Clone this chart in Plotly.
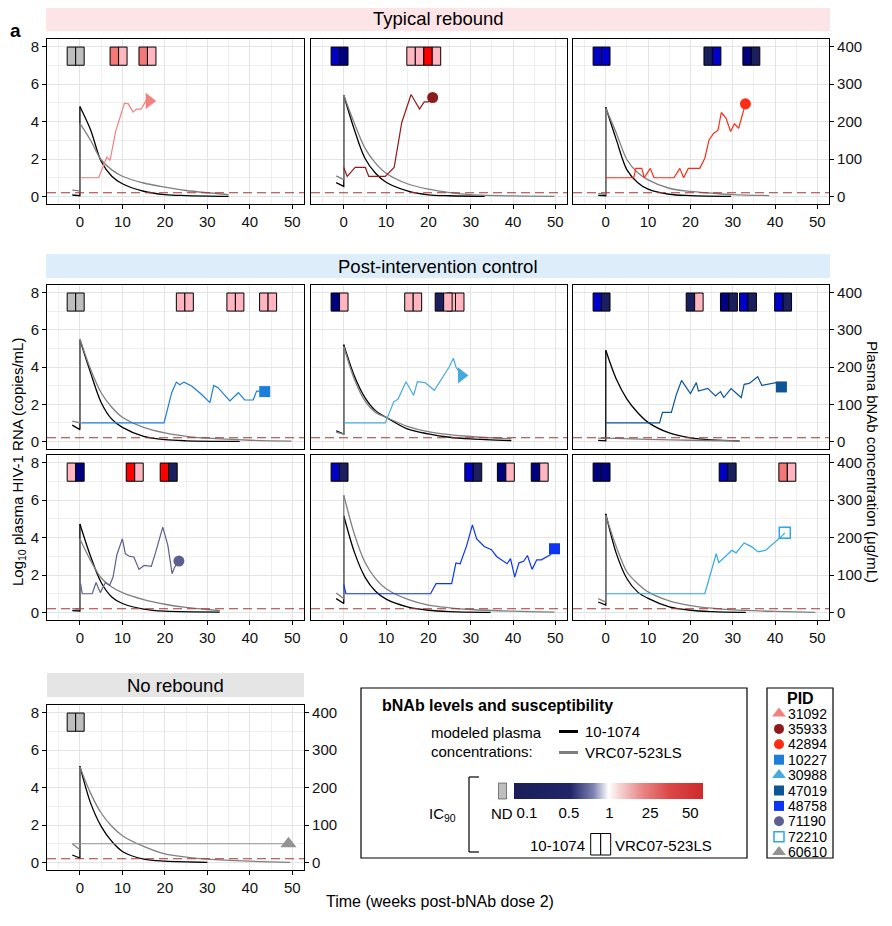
import plotly.graph_objects as go

PAGE_W, PAGE_H = 892, 926
OFF = 8                      # browser default body margin
W, H = PAGE_W - OFF, PAGE_H - OFF
FONT = "Arial, Liberation Sans, sans-serif"

# ---------------- data ----------------
PANELS = ["31092", "35933", "42894", "10227", "30988", "47019", "71190", "48758", "72210", "60610"]
PANEL_ROW = [0, 0, 0, 1, 1, 1, 2, 2, 2, 3]
PANEL_COL = [0, 1, 2, 0, 1, 2, 0, 1, 2, 0]
GROUP_TITLES = ["Typical rebound", "Post-intervention control", "No rebound"]

WEEK_TICKS = [0, 10, 20, 30, 40, 50]
LOG_TICKS = [0, 2, 4, 6, 8]
CONC_TICKS = [0, 100, 200, 300, 400]
LOD_CONC = 10  # dashed reference level (ug/mL)

# plasma HIV-1 RNA (log10 copies/mL)
VIRUS_WEEKS = {
    "31092": [0.3, 4.4, 6.35, 7.1, 8.4, 10.5, 11.4, 12.5, 13.3, 14.4, 15.6, 16.3],
    "35933": [0, 0.8, 2.7, 5.1, 5.9, 9.8, 11.9, 13.7, 15.9, 17.9, 19.0, 20.0, 21.0],
    "42894": [0, 6.6, 7.1, 8.5, 9.1, 10.5, 11.4, 16.1, 17.5, 18.4, 19.5, 22.2, 23.4, 24.4, 25.5, 26.5,
              27.3, 28.4, 29.5, 30.4, 31.4, 32.7, 33.0],
    "10227": [0.3, 19.8, 21.6, 22.7, 23.5, 24.5, 26.3, 28.6, 30.6, 31.5, 32.5, 33.6, 35.3, 37.3, 38.8,
              40.8, 41.6, 42.7, 43.5],
    "30988": [0, 9.8, 11.8, 12.8, 14.7, 16.5, 17.4, 19.2, 21.4, 23.1, 24.9, 25.9, 26.5, 27.8],
    "47019": [0, 12.7, 13.4, 15.5, 16.7, 17.9, 20.0, 21.4, 21.9, 23.0, 24.1, 25.9, 27.1, 27.9, 29.6,
              32.0, 32.7, 33.9, 35.9, 36.9, 40.2, 41.5],
    "71190": [0.15, 0.55, 2.9, 3.8, 4.8, 6.0, 7.0, 7.8, 8.7, 10.0, 10.7, 11.7, 12.7, 13.9, 15.1, 16.8,
              17.8, 19.5, 20.7, 21.7, 22.3, 23.3],
    "48758": [0, 0.5, 20.5, 21.8, 25.5, 26.5, 27.5, 29.0, 30.4, 31.4, 33.2, 34.9, 36.1, 37.3, 38.6, 39.4,
              40.4, 41.4, 42.5, 43.4, 44.5, 45.6, 46.7, 48.8, 49.8],
    "72210": [0, 23.4, 26.1, 26.7, 29.8, 30.8, 32.7, 34.5, 36.0, 37.8, 41.6, 42.3],
    "60610": [-1.7, 49.1],
}
VIRUS_LOG = {
    "31092": [1.0, 1.0, 2.1, 1.92, 3.47, 4.98, 4.94, 4.5, 4.66, 4.66, 5.12, 5.1],
    "35933": [1.55, 1.07, 1.55, 1.55, 1.07, 1.07, 1.55, 3.95, 5.44, 4.66, 5.05, 5.05, 5.28],
    "42894": [1.0, 1.0, 1.5, 1.5, 1.0, 1.5, 1.0, 1.0, 1.5, 1.0, 1.5, 1.5, 2.04, 3.02, 3.38, 3.52,
              4.48, 4.18, 3.47, 3.88, 3.64, 4.66, 4.94],
    "10227": [1.0, 1.0, 2.62, 3.19, 3.05, 3.19, 2.98, 2.54, 2.09, 3.01, 2.89, 2.59, 2.18, 2.62, 2.23,
              2.23, 2.71, 2.71, 2.68],
    "30988": [1.0, 1.0, 2.13, 2.27, 3.21, 2.48, 3.21, 3.16, 2.75, 3.33, 4.0, 4.47, 4.0, 3.55],
    "47019": [1.0, 1.0, 1.56, 1.56, 2.54, 3.28, 2.57, 3.16, 2.71, 2.8, 2.85, 2.45, 2.68, 2.36, 2.84,
              2.36, 3.07, 3.12, 3.48, 3.01, 3.16, 2.93],
    "71190": [1.54, 1.0, 1.0, 1.6, 1.06, 1.6, 1.45, 1.89, 3.08, 3.93, 3.13, 2.99, 2.96, 2.3, 2.51, 2.46,
              3.19, 4.55, 3.58, 2.07, 2.42, 2.74],
    "48758": [1.49, 1.0, 1.0, 1.54, 1.54, 2.64, 2.6, 3.54, 4.67, 3.93, 3.52, 3.35, 2.99, 2.81, 2.6, 2.87,
              1.89, 2.65, 2.73, 3.04, 2.3, 2.81, 2.81, 3.08, 3.4],
    "72210": [1.0, 1.0, 3.14, 2.66, 3.32, 3.18, 3.71, 3.5, 3.23, 3.32, 4.07, 4.25],
    "60610": [1.0, 1.0],
}

# modeled plasma bNAb concentrations (ug/mL): residual before dose 2
PRE_WEEKS = {p: [-1.8, 0] for p in PANELS}
PRE_1074 = {"31092": [4, 2], "35933": [37, 27], "42894": [3, 2], "10227": [44, 32], "30988": [29, 20],
            "47019": [3, 2], "71190": [5, 4], "48758": [37, 24], "72210": [28, 20], "60610": [20, 12]}
PRE_VRC = {"31092": [17, 15], "35933": [55, 45], "42894": [8, 6], "10227": [55, 50], "30988": [25, 20],
           "47019": [9, 8], "71190": [10, 9], "48758": [52, 37], "72210": [37, 28], "60610": [50, 34]}

C1074_WEEKS = {
    "31092": [0, 2.5, 5, 7.5, 10, 15, 20, 25, 35],
    "35933": [0, 2.5, 5, 7.5, 10, 15, 20, 25, 33.3],
    "42894": [0, 2.5, 5, 7.5, 10, 15, 20, 29.6],
    "10227": [0, 2.5, 5, 7.5, 10, 15, 20, 25, 37.6],
    "30988": [0, 2.5, 5, 7.5, 10, 15, 20, 25, 30, 39.6],
    "47019": [0, 2.5, 5, 7.5, 10, 15, 20, 25, 31.6],
    "71190": [0, 2.5, 5, 7.5, 10, 15, 20, 32.9],
    "48758": [0, 2.5, 5, 7.5, 10, 15, 20, 25, 34.7],
    "72210": [0, 2.5, 5, 7.5, 10, 15, 20, 25, 33.1],
    "60610": [0, 2.5, 5, 7.5, 10, 15, 20, 30],
}
C1074 = {
    "31092": [240, 178, 94, 54, 34, 14, 5, 2.5, 0.5],
    "35933": [270, 178, 102, 62, 38, 15, 4.5, 2, 0.5],
    "42894": [238, 151, 71, 37.5, 19.5, 6, 2.5, 0.5],
    "10227": [273, 185, 105, 60, 38, 14, 5, 2, 0.5],
    "30988": [260, 176, 118, 83, 65, 34, 20.5, 11.5, 7, 2.5],
    "47019": [245, 167, 114, 78, 51.5, 23, 10, 4.5, 1.5],
    "71190": [236, 150, 80, 41.5, 24, 9, 3.5, 1],
    "48758": [258, 161, 94.5, 56.5, 35.5, 15, 6, 2.5, 0.5],
    "72210": [263, 157, 90, 55, 37.5, 15, 6, 2.5, 0.5],
    "60610": [257, 159, 96.5, 56.5, 29.5, 9, 3.5, 0.5],
}
VRC_WEEKS = {
    "31092": [0, 2.5, 5, 7.5, 10, 15, 20, 25, 30, 35],
    "35933": [0, 2.5, 5, 7.5, 10, 15, 20, 25, 30, 40, 49.8],
    "42894": [0, 2.5, 5, 7.5, 10, 15, 20, 25, 30, 38.6],
    "10227": [0, 2.5, 5, 7.5, 10, 15, 20, 25, 30, 40, 49.8],
    "30988": [0, 2.5, 5, 7.5, 10, 15, 20, 25, 30, 39.6],
    "47019": [0, 10, 20, 31.6],
    "71190": [0, 2.5, 5, 7.5, 10, 15, 20, 25, 30, 33],
    "48758": [0, 2.5, 5, 7.5, 10, 15, 20, 25, 30, 40, 49.8],
    "72210": [0, 2.5, 5, 7.5, 10, 15, 20, 25, 30, 40, 49.5],
    "60610": [0, 2.5, 5, 7.5, 10, 15, 20, 25, 30, 40, 49.5],
}
VRC = {
    "31092": [195, 150, 98, 71, 54, 36, 25, 16, 10, 5],
    "35933": [270, 195, 129, 89, 62, 34, 19.5, 10.5, 5, 1.5, 0.5],
    "42894": [235, 169, 98, 64, 44.5, 22, 13.5, 9, 5, 2.5],
    "10227": [275, 194, 131, 92, 65, 38, 23, 14, 9, 3.5, 1],
    "30988": [255, 167, 109, 78, 65, 41, 26.5, 18.5, 13.5, 7],
    "47019": [9, 6, 3.5, 1.5],
    "71190": [196, 139, 92, 68, 53, 34.5, 22, 13.5, 8, 5],
    "48758": [313, 209, 134, 90.5, 63.5, 35.5, 19.5, 12.5, 8, 3.5, 1],
    "72210": [259, 175, 108, 77.5, 55, 31, 18.5, 11.5, 7, 3, 0.5],
    "60610": [255, 185, 132, 96.5, 71.5, 43, 23, 14.5, 9, 3.5, 0.5],
}

# susceptibility sampling weeks and IC90 (ug/mL); None = not determined
SAMPLE_WEEKS = {
    "31092": [-1, 9.1, 15.9], "35933": [-1, 16.9, 20.9], "42894": [-1, 25.2, 34.4],
    "10227": [-1, 24.7, 36.6, 44.3], "30988": [-1, 16.4, 26.4, 23.6], "47019": [-1, 21.0, 29.1, 33.6, 41.9],
    "71190": [-1, 12.9, 20.9], "48758": [-1, 30.6, 38.3, 46.3], "72210": [-1, 28.8, 42.9], "60610": [-1],
}
IC90_1074 = {
    "31092": [None, 15, 15], "35933": [0.5, 5, 50], "42894": [0.5, 0.05, 0.2],
    "10227": [None, 5, 5, 5], "30988": [0.2, 5, 5, 0.05], "47019": [0.5, 0.05, 0.2, 0.5, 0.5],
    "71190": [5, 50, 50], "48758": [0.5, 0.5, 0.2, 0.2], "72210": [0.2, 0.5, 15], "60610": [None],
}
IC90_VRC = {
    "31092": [None, 5, 5], "35933": [0.2, 5, 5], "42894": [0.5, 0.5, 0.05],
    "10227": [None, 5, 5, 5], "30988": [5, 5, 5, 5], "47019": [0.05, 5, 0.05, 0.05, 0.05],
    "71190": [0.2, 5, 0.05], "48758": [0.05, 0.05, 5, 5], "72210": [0.2, 0.05, 5], "60610": [None],
}

LEGEND_PIDS = ["31092", "35933", "42894", "10227", "30988", "47019", "48758", "71190", "72210", "60610"]
CBAR_LABELS = ["0.1", "0.5", "1", "25", "50"]

# ---------------- styles ----------------
PID_COLOR = {"31092": "#F37F7F", "35933": "#8E1B1B", "42894": "#FF2B14", "10227": "#1C7DDA",
             "30988": "#45AADF", "47019": "#0D5597", "48758": "#0B35F2", "71190": "#5C5F8F",
             "72210": "#2EA8E6", "60610": "#939393"}
PANEL_SYMBOL = {"31092": "triangle-right", "35933": "circle", "42894": "circle", "10227": "square",
                "30988": "triangle-right", "47019": "square", "48758": "square", "71190": "circle",
                "72210": "square-open", "60610": "triangle-up"}
LEGEND_SYMBOL = dict(PANEL_SYMBOL, **{"31092": "triangle-up", "30988": "triangle-up"})

COL_X = [(47, 304), (311, 567), (573, 829)]
ROW_Y = [(39, 204), (285, 449), (455, 620), (705, 870)]
X_RANGE = [-7.75, 52.75]
LOG_RANGE = [-0.4, 8.4]
CONC_RANGE = [-20, 420]
GRID = "#E4E4E4"
GRID_MINOR = "#EFEFEF"
TICKFONT = dict(family=FONT, size=15, color="#111111")


def PX(x):
    """page pixel -> paper fraction"""
    return (x - OFF) / W


def PY(y):
    return 1 - (y - OFF) / H


def ic_color(v):
    if v is None:
        return "#BEBEBE"
    if v <= 0.1:
        return "#1B1F5E"
    if v <= 0.3:
        return "#000080"
    if v <= 1:
        return "#0000C8"
    if v <= 10:
        return "#FFB6C1"
    if v <= 25:
        return "#F37878"
    return "#FF0000"


fig = go.Figure()
layout = dict(width=W, height=H, margin=dict(l=0, r=0, t=0, b=0), paper_bgcolor="white",
              plot_bgcolor="rgba(0,0,0,0)", showlegend=False,
              font=dict(family=FONT, size=15, color="black"))
shapes, annotations = [], []

for k, pid in enumerate(PANELS):
    r, c = PANEL_ROW[k], PANEL_COL[k]
    n = k + 1
    xid = "x" if n == 1 else f"x{n}"
    ycid = "y" if n == 1 else f"y{n}"       # concentration axis (base, right side)
    ylid = f"y{n + 10}"                     # log10 RNA axis (overlay, left side)
    xl = "xaxis" if n == 1 else f"xaxis{n}"
    ycl = "yaxis" if n == 1 else f"yaxis{n}"
    yll = f"yaxis{n + 10}"
    x0, x1 = COL_X[c]
    y0, y1 = ROW_Y[r]
    show_x = r in (0, 2, 3)
    show_left = c == 0
    show_right = c == 2 or r == 3

    layout[xl] = dict(domain=[PX(x0), PX(x1)], range=X_RANGE, anchor=ycid, tickmode="array",
                      tickvals=WEEK_TICKS, showgrid=True, gridcolor=GRID, gridwidth=1,
                      minor=dict(tickmode="linear", tick0=-5, dtick=10, showgrid=True,
                                 gridcolor=GRID_MINOR, gridwidth=1),
                      showline=True, mirror=True, linecolor="black", linewidth=1.2, zeroline=False,
                      ticks="outside" if show_x else "", ticklen=4, tickcolor="black",
                      showticklabels=show_x, tickfont=TICKFONT, automargin=False)
    layout[ycl] = dict(domain=[PY(y1), PY(y0)], range=CONC_RANGE, anchor=xid, side="right",
                       tickmode="array", tickvals=CONC_TICKS, showgrid=False, zeroline=False,
                       showline=True, mirror=True, linecolor="black", linewidth=1.2,
                       ticks="outside" if show_right else "", ticklen=4, tickcolor="black",
                       showticklabels=show_right, tickfont=TICKFONT, automargin=False)
    layout[yll] = dict(domain=[PY(y1), PY(y0)], range=LOG_RANGE, anchor=xid, side="left",
                       overlaying=ycid, tickmode="array", tickvals=LOG_TICKS, showgrid=True,
                       gridcolor=GRID, gridwidth=1,
                       minor=dict(tickmode="linear", tick0=1, dtick=2, showgrid=True,
                                  gridcolor=GRID_MINOR, gridwidth=1),
                       zeroline=False, showline=False,
                       ticks="outside" if show_left else "", ticklen=4, tickcolor="black",
                       showticklabels=show_left, tickfont=TICKFONT, automargin=False)

    # modeled concentrations: 10-1074 (black) then VRC07-523LS (gray)
    for pre, wk, val, col in ((PRE_1074, C1074_WEEKS, C1074, "#000000"),
                              (PRE_VRC, VRC_WEEKS, VRC, "#7F7F7F")):
        fig.add_trace(go.Scatter(x=PRE_WEEKS[pid] + [wk[pid][0]], y=pre[pid] + [val[pid][0]],
                                 mode="lines", line=dict(color=col, width=1.3),
                                 xaxis=xid, yaxis=ycid, hoverinfo="skip"))
        fig.add_trace(go.Scatter(x=wk[pid], y=val[pid], mode="lines",
                                 line=dict(color=col, width=1.3, shape="spline", smoothing=0.9),
                                 xaxis=xid, yaxis=ycid, hoverinfo="skip"))

    # viral load
    fig.add_trace(go.Scatter(x=VIRUS_WEEKS[pid], y=VIRUS_LOG[pid], mode="lines",
                             line=dict(color=PID_COLOR[pid], width=1.2),
                             xaxis=xid, yaxis=ylid, hoverinfo="skip"))
    sym = PANEL_SYMBOL[pid]
    fig.add_trace(go.Scatter(x=VIRUS_WEEKS[pid][-1:], y=VIRUS_LOG[pid][-1:], mode="markers",
                             marker=dict(symbol=sym, color=PID_COLOR[pid], opacity=1,
                                         size=14 if "triangle" in sym else 11,
                                         line=dict(width=1.5 if "open" in sym else 0, color=PID_COLOR[pid])),
                             xaxis=xid, yaxis=ylid, cliponaxis=False, hoverinfo="skip"))

    # reference (dashed) level
    shapes.append(dict(type="line", xref=f"{xid} domain", x0=0, x1=1, yref=ycid, y0=LOD_CONC, y1=LOD_CONC,
                       line=dict(color="#A83434", width=1.1, dash="9px,5px"), layer="above"))

    # susceptibility boxes
    for t, a, b in zip(SAMPLE_WEEKS[pid], IC90_1074[pid], IC90_VRC[pid]):
        for xa, xb, v in ((t - 2, t, a), (t, t + 2, b)):
            shapes.append(dict(type="rect", xref=xid, yref=ylid, x0=xa, x1=xb, y0=7.0, y1=7.97,
                               fillcolor=ic_color(v), line=dict(color="black", width=1), layer="above"))

# ---------- strips ----------
for (sx0, sx1, sy0, sy1, fill), title in zip(
        [(46, 830, 7, 31, "#FDE4E7"), (46, 830, 254, 278, "#DDEEFA"), (47, 304, 673, 697, "#E5E5E5")],
        GROUP_TITLES):
    shapes.append(dict(type="rect", xref="paper", yref="paper", x0=PX(sx0), x1=PX(sx1), y0=PY(sy1), y1=PY(sy0),
                       fillcolor=fill, line=dict(width=0), layer="below"))
    annotations.append(dict(text=title, xref="paper", yref="paper", x=PX((sx0 + sx1) / 2), y=PY((sy0 + sy1) / 2),
                            showarrow=False, xanchor="center", yanchor="middle",
                            font=dict(family=FONT, size=18.5, color="black")))

# ---------- axis titles and panel label ----------
annotations += [
    dict(text="<b>a</b>", xref="paper", yref="paper", x=PX(15), y=PY(31), showarrow=False,
         xanchor="center", yanchor="middle", font=dict(family=FONT, size=19, color="black")),
    dict(text="Log<sub>10</sub> plasma HIV-1 RNA (copies/mL)", xref="paper", yref="paper", x=PX(18), y=PY(462),
         textangle=-90, showarrow=False, xanchor="center", yanchor="middle",
         font=dict(family=FONT, size=15, color="black")),
    dict(text="Plasma bNAb concentration (μg/mL)", xref="paper", yref="paper", x=PX(873), y=PY(462),
         textangle=90, showarrow=False, xanchor="center", yanchor="middle",
         font=dict(family=FONT, size=15, color="black")),
    dict(text="Time (weeks post-bNAb dose 2)", xref="paper", yref="paper", x=PX(440), y=PY(901),
         showarrow=False, xanchor="center", yanchor="middle", font=dict(family=FONT, size=16, color="black")),
]

# ---------- bNAb legend ----------
shapes.append(dict(type="rect", xref="paper", yref="paper", x0=PX(361), x1=PX(747), y0=PY(858), y1=PY(688),
                   line=dict(color="black", width=1.2), fillcolor="rgba(0,0,0,0)"))
annotations.append(dict(text="<b>bNAb levels and susceptibility</b>", xref="paper", yref="paper", x=PX(380),
                        y=PY(705), showarrow=False, xanchor="left", yanchor="middle",
                        font=dict(family=FONT, size=16, color="black")))
for txt, yy in (("modeled plasma", 732), ("concentrations:", 751)):
    annotations.append(dict(text=txt, xref="paper", yref="paper", x=PX(429), y=PY(yy), showarrow=False,
                            xanchor="left", yanchor="middle", font=dict(family=FONT, size=15, color="black")))
for txt, yy, col in (("10-1074", 731.5, "black"), ("VRC07-523LS", 752.5, "#7F7F7F")):
    shapes.append(dict(type="line", xref="paper", yref="paper", x0=PX(559), x1=PX(578), y0=PY(yy), y1=PY(yy),
                       line=dict(color=col, width=3)))
    annotations.append(dict(text=txt, xref="paper", yref="paper", x=PX(583), y=PY(yy), showarrow=False,
                            xanchor="left", yanchor="middle", font=dict(family=FONT, size=15, color="black")))
# bracket
for xa, ya, xb, yb in ((469, 777, 469, 852), (469, 777, 479, 777), (469, 852, 479, 852)):
    shapes.append(dict(type="line", xref="paper", yref="paper", x0=PX(xa), x1=PX(xb), y0=PY(ya), y1=PY(yb),
                       line=dict(color="black", width=1.2)))
annotations.append(dict(text="IC<sub>90</sub>", xref="paper", yref="paper", x=PX(427), y=PY(814),
                        showarrow=False, xanchor="left", yanchor="middle",
                        font=dict(family=FONT, size=15, color="black")))
# ND swatch
shapes.append(dict(type="rect", xref="paper", yref="paper", x0=PX(498.5), x1=PX(506.5), y0=PY(799), y1=PY(783),
                   fillcolor="#BEBEBE", line=dict(color="#333333", width=0.6)))
annotations.append(dict(text="ND", xref="paper", yref="paper", x=PX(501.5), y=PY(813), showarrow=False,
                        xanchor="center", yanchor="middle", font=dict(family=FONT, size=15, color="black")))
# susceptibility key box pair
for xa, xb in ((590.7, 600.7), (600.7, 610.7)):
    shapes.append(dict(type="rect", xref="paper", yref="paper", x0=PX(xa), x1=PX(xb), y0=PY(855), y1=PY(833.5),
                       fillcolor="white", line=dict(color="black", width=1)))
annotations.append(dict(text="10-1074", xref="paper", yref="paper", x=PX(587), y=PY(845), showarrow=False,
                        xanchor="right", yanchor="middle", font=dict(family=FONT, size=15, color="black")))
annotations.append(dict(text="VRC07-523LS", xref="paper", yref="paper", x=PX(613), y=PY(845), showarrow=False,
                        xanchor="left", yanchor="middle", font=dict(family=FONT, size=15, color="black")))

# colour bar (gradient key)
CBAR_POS = [0.067, 0.289, 0.503, 0.719, 0.931]
fig.add_trace(go.Scatter(
    x=[-1000], y=[-1000], mode="markers", xaxis="x21", yaxis="y21", hoverinfo="skip",
    marker=dict(color=[0.5], cmin=0, cmax=1, size=1,
                colorscale=[[0, "#1A1D58"], [0.3, "#21266A"], [0.42, "#7D82B0"], [0.5, "#FFFFFF"],
                            [0.56, "#F6D2D2"], [0.68, "#E88585"], [0.82, "#DB4848"], [1, "#CF2A2A"]],
                showscale=True,
                colorbar=dict(orientation="h", x=PX(608.8), xanchor="center", y=PY(783), yanchor="top",
                              len=189, lenmode="pixels", thickness=16, thicknessmode="pixels",
                              xpad=0, ypad=0, outlinewidth=0, ticks="", tickmode="array",
                              tickvals=CBAR_POS, ticktext=CBAR_LABELS, ticklabelposition="outside bottom",
                              tickfont=dict(family=FONT, size=15, color="black")))))

# ---------- PID legend ----------
shapes.append(dict(type="rect", xref="paper", yref="paper", x0=PX(767), x1=PX(833), y0=PY(858), y1=PY(688),
                   line=dict(color="black", width=1.2), fillcolor="rgba(0,0,0,0)"))
annotations.append(dict(text="<b>PID</b>", xref="paper", yref="paper", x=PX(800), y=PY(698.5), showarrow=False,
                        xanchor="center", yanchor="middle", font=dict(family=FONT, size=16, color="black")))
leg_y = [713.5 + 15.4 * i for i in range(len(LEGEND_PIDS))]
fig.add_trace(go.Scatter(
    x=[779] * len(LEGEND_PIDS), y=leg_y, mode="markers", xaxis="x21", yaxis="y21", hoverinfo="skip",
    cliponaxis=False,
    marker=dict(symbol=[LEGEND_SYMBOL[p] for p in LEGEND_PIDS], color=[PID_COLOR[p] for p in LEGEND_PIDS],
                opacity=1,
                size=[12 if "triangle" in LEGEND_SYMBOL[p] else 10 for p in LEGEND_PIDS],
                line=dict(width=[1.5 if "open" in LEGEND_SYMBOL[p] else 0 for p in LEGEND_PIDS],
                          color=[PID_COLOR[p] for p in LEGEND_PIDS]))))
for p, yy in zip(LEGEND_PIDS, leg_y):
    annotations.append(dict(text=p, xref="paper", yref="paper", x=PX(786), y=PY(yy), showarrow=False,
                            xanchor="left", yanchor="middle", font=dict(family=FONT, size=14, color="black")))

layout["xaxis21"] = dict(domain=[0, 1], range=[OFF, PAGE_W], visible=False, anchor="y21", fixedrange=True)
layout["yaxis21"] = dict(domain=[0, 1], range=[PAGE_H, OFF], visible=False, anchor="x21", fixedrange=True)
layout["shapes"] = shapes
layout["annotations"] = annotations
fig.update_layout(**layout)
fig.write_html("out.html")
